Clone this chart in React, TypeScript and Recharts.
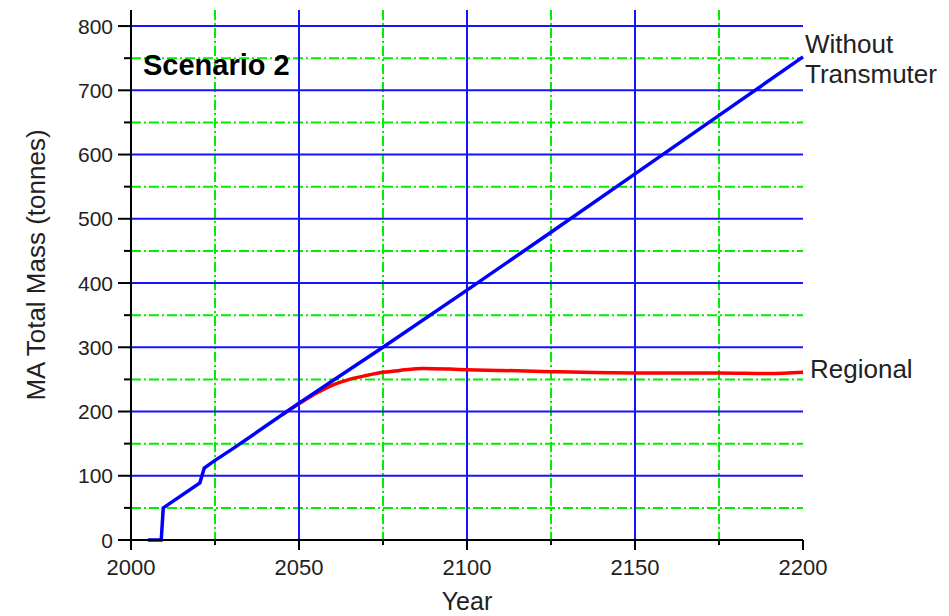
import { LineChart, Line, XAxis, YAxis, CartesianGrid, ReferenceDot } from "recharts";

const FONT = '"Liberation Sans", Arial, sans-serif';

// year ticks: labelled majors every 50, minor every 25
const xMajor = [2000, 2050, 2100, 2150, 2200];
const xMinor = [2025, 2075, 2125, 2175];
const yMajor = [0, 100, 200, 300, 400, 500, 600, 700, 800];
const yMinor = [50, 150, 250, 350, 450, 550, 650, 750];

// "Without Transmuter"
const withoutYears = [2005, 2009, 2009.6, 2020.5, 2021.8, 2025, 2030, 2040, 2050, 2060, 2075, 2100, 2125, 2150, 2175, 2200];
const withoutMass = [0, 0, 50, 89, 112, 124, 141, 177, 213, 248, 300, 389, 479, 570, 661, 752];

// "Regional"
const regionalYears = [2045, 2050, 2055, 2060, 2065, 2070, 2075, 2080, 2087, 2095, 2100, 2110, 2125, 2150, 2175, 2190, 2200];
const regionalMass = [195, 212, 228, 241, 250, 256, 261, 264, 267, 266, 265, 264, 262, 260, 260, 259, 261];

const withoutData = withoutYears.map((year, i) => ({ year, mass: withoutMass[i] }));
const regionalData = regionalYears.map((year, i) => ({ year, mass: regionalMass[i] }));

function XTick({ x, y, payload }: any) {
  const major = xMajor.includes(payload.value);
  return (
    <g>
      <line x1={x} x2={x} y1={y} y2={y + (major ? 10 : 5)} stroke="#000" strokeWidth={2} />
      {major && (
        <text x={x} y={y + 35} textAnchor="middle" fontSize={22} fontFamily={FONT} fill="#222">
          {payload.value}
        </text>
      )}
    </g>
  );
}

function YTick({ x, y, payload }: any) {
  const major = yMajor.includes(payload.value);
  return (
    <g>
      <line x1={x - (major ? 13 : 7)} x2={x} y1={y} y2={y} stroke="#000" strokeWidth={2} />
      {major && (
        <text x={x - 18} y={y} dy="0.36em" textAnchor="end" fontSize={21} fontFamily={FONT} fill="#222">
          {payload.value}
        </text>
      )}
    </g>
  );
}

export default function App() {
  return (
    <div style={{ position: "absolute", left: 0, top: 0, background: "#fff" }}>
      <LineChart
        width={949}
        height={616}
        margin={{ top: 10, right: 146, bottom: 0, left: 0 }}
        style={{ fontFamily: FONT }}
      >
        <CartesianGrid
          verticalValues={xMinor}
          horizontalValues={yMinor}
          stroke="#00ee00"
          strokeWidth={2}
          strokeDasharray="10 3 2 3"
        />
        <CartesianGrid
          verticalValues={[2050, 2100, 2150]}
          horizontalValues={yMajor.slice(1)}
          stroke="#1414ff"
          strokeWidth={2}
        />
        <XAxis
          type="number"
          dataKey="year"
          domain={[2000, 2200]}
          ticks={[...xMajor, ...xMinor].sort((a, b) => a - b)}
          interval={0}
          height={76}
          tickSize={0}
          tickMargin={0}
          tickLine={false}
          tick={<XTick />}
          axisLine={{ stroke: "#000", strokeWidth: 2 }}
          label={{
            content: ({ viewBox }: any) => (
              <text
                x={viewBox.x + viewBox.width / 2}
                y={viewBox.y + 70}
                textAnchor="middle"
                fontSize={25}
                fontFamily={FONT}
                fill="#222"
              >
                Year
              </text>
            ),
          }}
        />
        <YAxis
          type="number"
          domain={[0, 825]}
          ticks={[...yMajor, ...yMinor].sort((a, b) => a - b)}
          interval={0}
          width={131}
          tickSize={0}
          tickMargin={0}
          tickLine={false}
          tick={<YTick />}
          axisLine={{ stroke: "#000", strokeWidth: 2 }}
          label={{
            content: ({ viewBox }: any) => {
              const cx = viewBox.x + 45;
              const cy = viewBox.y + viewBox.height / 2 - 10;
              return (
                <text
                  x={cx}
                  y={cy}
                  transform={`rotate(-90, ${cx}, ${cy})`}
                  textAnchor="middle"
                  fontSize={26}
                  fontFamily={FONT}
                  fill="#222"
                >
                  MA Total Mass (tonnes)
                </text>
              );
            },
          }}
        />
        <Line
          data={regionalData}
          dataKey="mass"
          type="monotone"
          stroke="#ff0000"
          strokeWidth={3.5}
          dot={false}
          isAnimationActive={false}
        />
        <Line
          data={withoutData}
          dataKey="mass"
          type="linear"
          stroke="#0000ff"
          strokeWidth={3.5}
          dot={false}
          isAnimationActive={false}
        />
        <ReferenceDot
          x={2000}
          y={800}
          r={0}
          ifOverflow="visible"
          label={{
            content: ({ viewBox }: any) => (
              <text x={viewBox.x + 12} y={viewBox.y + 49} fontSize={29} fontWeight="bold" fontFamily={FONT} fill="#000">
                Scenario 2
              </text>
            ),
          }}
        />
        <ReferenceDot
          x={2200}
          y={752}
          r={0}
          ifOverflow="visible"
          label={{
            content: ({ viewBox }: any) => (
              <text fontSize={26} fontFamily={FONT} fill="#222">
                <tspan x={viewBox.x + 2} y={viewBox.y - 4}>Without</tspan>
                <tspan x={viewBox.x + 2} y={viewBox.y + 26}>Transmuter</tspan>
              </text>
            ),
          }}
        />
        <ReferenceDot
          x={2200}
          y={261}
          r={0}
          ifOverflow="visible"
          label={{
            content: ({ viewBox }: any) => (
              <text x={viewBox.x + 7} y={viewBox.y + 6} fontSize={26} fontFamily={FONT} fill="#222">
                Regional
              </text>
            ),
          }}
        />
      </LineChart>
    </div>
  );
}
